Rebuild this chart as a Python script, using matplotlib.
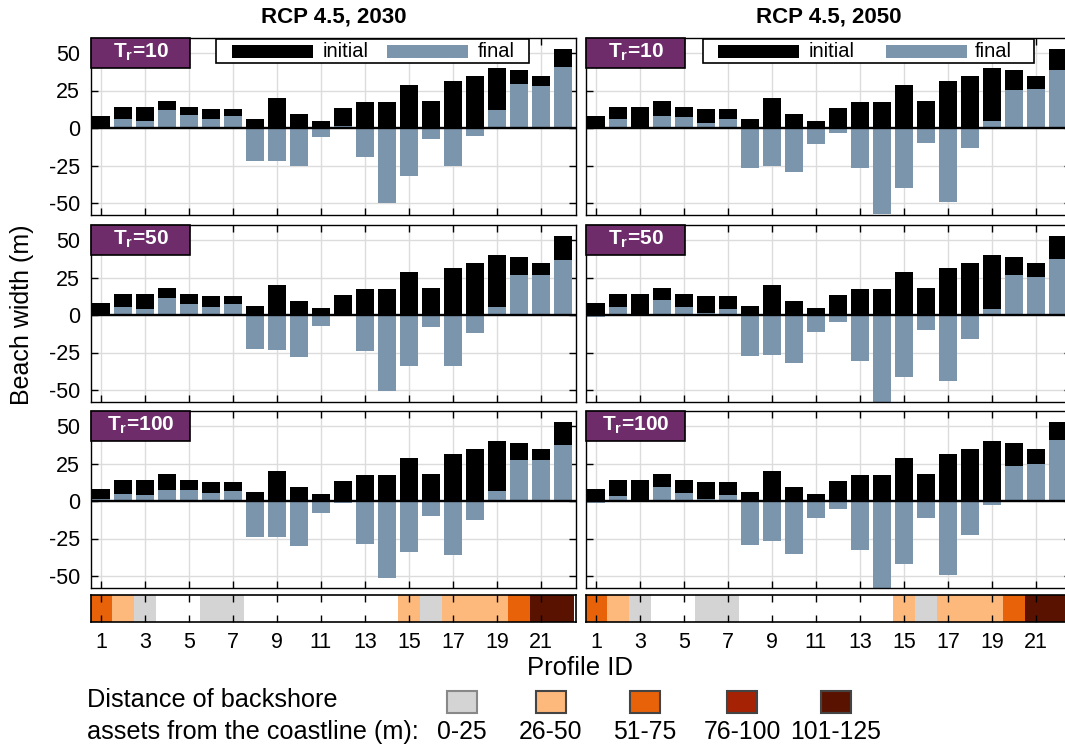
import numpy as np
import matplotlib
matplotlib.use("Agg")
import matplotlib.pyplot as plt
from matplotlib.patches import Rectangle

plt.rcParams['font.family'] = ['Liberation Sans', 'DejaVu Sans']
plt.rcParams['mathtext.fontset'] = 'custom'
plt.rcParams['mathtext.rm'] = 'Liberation Sans'
plt.rcParams['mathtext.bf'] = 'Liberation Sans:bold'

# ---------------- data ----------------
profiles = list(range(1, 23))
initial_width = [8, 13.8, 13.8, 18, 14.3, 12.7, 12.7, 5.8, 20, 9.6, 4.7,
                 13.4, 17.1, 17.1, 28.7, 18, 31.4, 34.7, 39.9, 38.5, 34.7, 52.8]

final_2030_tr10 = [1, 6, 4.7, 12, 8.9, 6, 8, -22, -21.8, -25.6, -6.2,
                   1.5, -19.4, -49.9, -32.3, -7.1, -25.6, -5.1, 12.2, 29.6, 28.3, 40.8]
final_2030_tr50 = [0, 5.1, 4, 11.1, 7.3, 5.1, 7.3, -22.9, -23.3, -28.2, -7.1,
                   0, -23.8, -50.9, -33.8, -7.8, -33.8, -12.2, 5.6, 26.7, 26.9, 36.7]
final_2030_tr100 = [1.1, 4.9, 3.8, 7.6, 7.6, 5.6, 6.9, -24, -24, -30, -7.8,
                    -1.1, -28.9, -51.3, -34, -10.2, -35.8, -12.9, 6.4, 27.6, 27.1, 37.1]
final_2050_tr10 = [0, 6, 0.5, 8.2, 7.3, 3.6, 6, -26.5, -25.6, -29, -10.7,
                   -3.3, -26.5, -57.5, -40.1, -9.8, -49.4, -13.6, 4.5, 25.6, 26.1, 38.5]
final_2050_tr50 = [-1.6, 5.1, 0, 10, 5.6, 1.6, 4, -27.3, -26.4, -32, -11.6,
                   -4.7, -30.4, -58.7, -41.6, -10, -43.8, -16, 4, 26.7, 25.1, 37.3]
final_2050_tr100 = [-1.3, 3.6, 0, 9.6, 5.6, 1.6, 3.8, -29.6, -26.9, -35.1, -11.3,
                    -5.3, -32.9, -60, -41.8, -11.3, -49.1, -22.9, -2.9, 23.1, 24.4, 40.4]

# backshore asset distance class per profile (0 = no assets)
asset_class = [3, 2, 1, 0, 0, 1, 1, 0, 0, 0, 0, 0, 0, 0, 2, 1, 2, 2, 2, 3, 5, 5]
class_labels = ['0-25', '26-50', '51-75', '76-100', '101-125']

scenarios = ['RCP 4.5, 2030', 'RCP 4.5, 2050']
return_periods = [10, 50, 100]
finals = [[final_2030_tr10, final_2030_tr50, final_2030_tr100],
          [final_2050_tr10, final_2050_tr50, final_2050_tr100]]

# ---------------- styling ----------------
C_INIT = '#000000'
C_FINAL = '#7b96ac'
C_LABEL = '#6e2c6b'
class_colors = ['#ffffff', '#d4d4d4', '#fdb97c', '#e8620a', '#a52205', '#5a1200']
GRID = '#dcdcdc'

W, H = 1065, 747
fig = plt.figure(figsize=(W / 100, H / 100), dpi=100)

col_left = [91, 586]
ax_w = 485
row_top = [38, 225, 411]
row_h = 177
strip_top, strip_h = 595, 27
xlim = (0.55, 22.6)
ylim = (-58, 60)
odd = list(range(1, 23, 2))


def fax(x0, y0, w, h):
    return fig.add_axes([x0 / W, 1 - (y0 + h) / H, w / W, h / H])


legend_pos = [dict(box=(0.257, 0.904), hi=0.291, ti=0.478, hf=0.610, tf=0.798),
              dict(box=(0.241, 0.924), hi=0.272, ti=0.458, hf=0.618, tf=0.802)]

for c in range(2):
    for r in range(3):
        ax = fax(col_left[c], row_top[r], ax_w, row_h)
        ax.bar(profiles, initial_width, width=0.82, color=C_INIT, zorder=2)
        ax.bar(profiles, finals[c][r], width=0.82, color=C_FINAL, zorder=3)
        ax.axhline(0, color='black', lw=1.7, zorder=4)
        ax.set_xlim(*xlim)
        ax.set_ylim(*ylim)
        ax.set_xticks(odd)
        ax.set_xticklabels([])
        ax.set_yticks([-50, -25, 0, 25, 50])
        if c == 0:
            ax.set_yticklabels(['-50', '-25', '0', '25', '50'])
        else:
            ax.set_yticklabels([])
        ax.tick_params(direction='in', top=True, right=True, length=5,
                       width=1, labelsize=15.5, pad=8)
        ax.grid(True, color=GRID, lw=1, zorder=0)
        ax.set_axisbelow(True)
        for s in ax.spines.values():
            s.set_linewidth(1.0)
            s.set_zorder(6)
        if r == 0:
            ax.set_title(scenarios[c], fontsize=16, fontweight='bold', pad=11)

        # return period tag
        ax.add_patch(Rectangle((0, 1 - 30 / row_h), 99 / ax_w, 30 / row_h,
                               transform=ax.transAxes, facecolor=C_LABEL,
                               edgecolor='black', lw=1.2, zorder=7, clip_on=False))
        ax.text(50 / ax_w, 1 - 14 / row_h,
                r'$\mathbf{T}_{\mathbf{r}}$' + '=%d' % return_periods[r],
                transform=ax.transAxes, ha='center', va='center', color='white',
                fontsize=15, fontweight='bold', zorder=8)

        if r == 0:
            lp = legend_pos[c]
            bx0, bx1 = lp['box']
            ax.add_patch(Rectangle((bx0, 1 - 25.3 / row_h), bx1 - bx0, 24 / row_h,
                                   transform=ax.transAxes, facecolor='white',
                                   edgecolor='black', lw=1.2, zorder=7))
            yc = 1 - 13.3 / row_h
            hh = 13 / row_h
            hw = 81 / ax_w
            ax.add_patch(Rectangle((lp['hi'], yc - hh / 2), hw, hh,
                                   transform=ax.transAxes, facecolor=C_INIT,
                                   lw=0, zorder=8))
            ax.add_patch(Rectangle((lp['hf'], yc - hh / 2), hw, hh,
                                   transform=ax.transAxes, facecolor=C_FINAL,
                                   lw=0, zorder=8))
            ax.text(lp['ti'], yc, 'initial', transform=ax.transAxes,
                    ha='left', va='center', fontsize=14.5, zorder=9)
            ax.text(lp['tf'], yc, 'final', transform=ax.transAxes,
                    ha='left', va='center', fontsize=14.5, zorder=9)

    # backshore asset strip
    sax = fax(col_left[c], strip_top, ax_w, strip_h)
    sax.bar(profiles, [1] * len(profiles), width=1.0,
            color=[class_colors[k] for k in asset_class], lw=0, zorder=1)
    sax.set_xlim(*xlim)
    sax.set_ylim(0, 1)
    sax.set_yticks([])
    sax.set_xticks(odd)
    sax.set_xticklabels([str(p) for p in odd])
    sax.tick_params(direction='in', top=True, length=5, width=1,
                    labelsize=15.5, pad=7)
    for s in sax.spines.values():
        s.set_linewidth(1.2)
        s.set_zorder(6)

fig.text(22 / W, 1 - 315 / H, 'Beach width (m)', rotation=90,
         ha='center', va='center', fontsize=18)
fig.text(580 / W, 1 - 668 / H, 'Profile ID', ha='center', va='center', fontsize=18.5)

# asset distance key
fig.text(87 / W, 1 - 700 / H, 'Distance of backshore', ha='left', va='center',
         fontsize=18.2)
fig.text(87 / W, 1 - 732 / H, 'assets from the coastline (m):', ha='left',
         va='center', fontsize=18.2)
key_x = [462, 551, 645, 742, 836]
for k, (xc, lab) in enumerate(zip(key_x, class_labels)):
    edge = '#888888' if k == 0 else '#444444'
    fig.patches.append(Rectangle(((xc - 15) / W, 1 - 713 / H), 30 / W, 22 / H,
                                 transform=fig.transFigure,
                                 facecolor=class_colors[k + 1], edgecolor=edge,
                                 lw=1.5))
    fig.text(xc / W, 1 - 732 / H, lab, ha='center', va='center', fontsize=17.8)

fig.savefig('out.png', dpi=100)
